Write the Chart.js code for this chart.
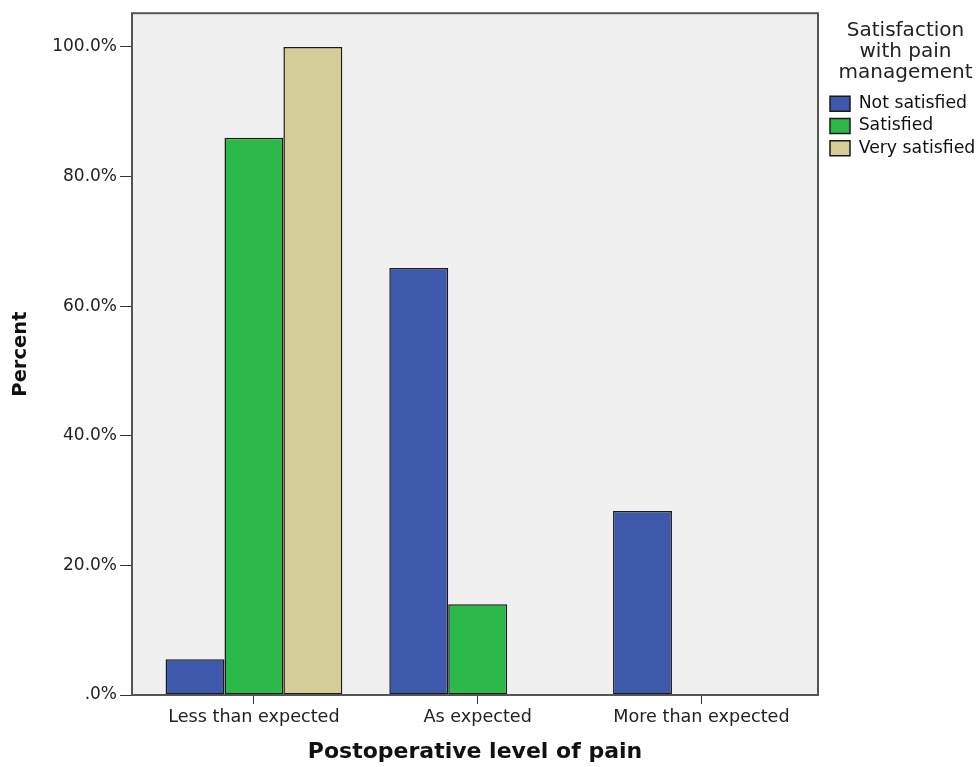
<!DOCTYPE html>
<html>
<head>
<meta charset="utf-8">
<script src="https://cdn.jsdelivr.net/npm/chart.js@4/dist/chart.umd.min.js"></script>
<style>
  html, body { margin: 0; padding: 0; background: #fff; }
  #wrap { width: 979px; height: 767px; }
</style>
</head>
<body>
<div id="wrap"><canvas id="pain"></canvas></div>
<script>
// data (percent within each satisfaction group)
var categories = ["Less than expected", "As expected", "More than expected"];
var seriesNames = ["Not satisfied", "Satisfied", "Very satisfied"];
var notSatisfied = [5.5, 65.9, 28.4];
var satisfied = [86.0, 14.0, 0];
var verySatisfied = [100.0, 0, 0];
var yTicks = [0, 20, 40, 60, 80, 100];
var legendTitle = ["Satisfaction", "with pain", "management"];

var colors = ["#3e58ac", "#2db84a", "#d3ce97"];
var font = "'DejaVu Sans', sans-serif";

// plot background + frame
var framePlugin = {
  id: "frame",
  beforeDraw: function (chart) {
    var a = chart.chartArea, c = chart.ctx;
    c.save();
    c.fillStyle = "#f0f0f0";
    c.fillRect(a.left, a.top, a.right - a.left, a.bottom - a.top);
    c.restore();
  },
  afterDraw: function (chart) {
    var a = chart.chartArea, c = chart.ctx;
    c.save();
    c.strokeStyle = "#555";
    c.lineWidth = 2;
    c.strokeRect(a.left, a.top, a.right - a.left, a.bottom - a.top);
    c.restore();
  }
};

// legend sits in a fixed column on the right
var legendPlugin = {
  id: "legendBox",
  afterInit: function (chart) {
    var lg = chart.legend;
    var fit = lg.fit.bind(lg);
    lg.fit = function () { fit(); this.width = 161; };
  },
  afterLayout: function (chart) {
    chart.legend.left += 7;
    chart.legend.right += 7;
  }
};

var datasets = [notSatisfied, satisfied, verySatisfied].map(function (vals, i) {
  return {
    label: seriesNames[i],
    data: vals.map(function (v, k) { return { x: k, y: v }; }),
    backgroundColor: colors[i],
    borderColor: "#1a1a1a",
    borderWidth: 1.5,
    borderSkipped: false,
    categoryPercentage: 0.79,
    barPercentage: 1.0
  };
});

new Chart(document.getElementById("pain").getContext("2d"), {
  type: "bar",
  data: { datasets: datasets },
  plugins: [framePlugin, legendPlugin],
  options: {
    responsive: true,
    maintainAspectRatio: false,
    animation: false,
    layout: { padding: { left: 5, top: 9, right: 0, bottom: 0 } },
    plugins: {
      tooltip: { enabled: false },
      legend: {
        position: "right",
        align: "start",
        title: {
          display: true,
          text: legendTitle,
          color: "#222",
          font: { family: font, size: 20, lineHeight: 1.05 },
          padding: { top: 12, bottom: 48 }
        },
        labels: {
          color: "#111",
          font: { family: font, size: 17.3 },
          boxWidth: 20,
          boxHeight: 15,
          padding: 5
        }
      }
    },
    scales: {
      x: {
        type: "linear",
        min: -0.545,
        max: 2.521,
        offset: false,
        grid: {
          display: true,
          offset: false,
          drawOnChartArea: false,
          tickLength: 9,
          tickColor: "#333"
        },
        border: { display: false },
        afterBuildTicks: function (s) {
          s.ticks = categories.map(function (c, k) { return { value: k }; });
        },
        ticks: {
          color: "#222",
          font: { family: font, size: 17.6 },
          padding: 3,
          maxRotation: 0,
          callback: function (v) { return categories[v]; }
        },
        title: {
          display: true,
          text: "Postoperative level of pain",
          color: "#111",
          font: { family: font, size: 22, weight: "bold" },
          padding: { top: 4, bottom: 2 }
        },
        afterFit: function (s) { s.height = 72; }
      },
      y: {
        min: 0,
        max: 105.2,
        grid: {
          display: true,
          drawOnChartArea: false,
          tickLength: 12,
          tickColor: "#333"
        },
        border: { display: false },
        ticks: {
          color: "#222",
          font: { family: font, size: 17 },
          padding: 3,
          callback: function (v) { return v === 0 ? ".0%" : v.toFixed(1) + "%"; }
        },
        afterBuildTicks: function (s) {
          s.ticks = yTicks.map(function (v) { return { value: v }; });
        },
        title: {
          display: true,
          text: "Percent",
          color: "#111",
          font: { family: font, size: 19.5, weight: "bold" },
          padding: { top: 4, bottom: 4 }
        },
        afterFit: function (s) { s.width = 127; }
      }
    }
  }
});
</script>
</body>
</html>
